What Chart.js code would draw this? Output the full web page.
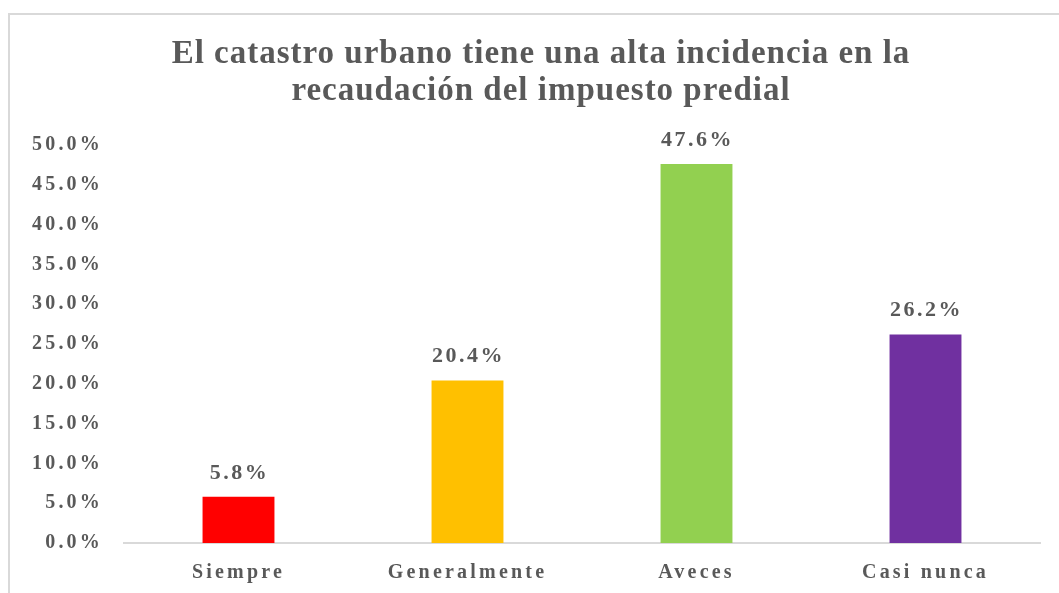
<!DOCTYPE html>
<html>
<head>
<meta charset="utf-8">
<script src="https://cdn.jsdelivr.net/npm/chart.js@4/dist/chart.umd.min.js"></script>
<style>
  body { margin: 0; background: #fff; }
  #frame { position: absolute; left: 8px; top: 13px; width: 1200px; height: 700px;
           border-left: 2px solid #d9d9d9; border-top: 2px solid #d9d9d9; }
  #wrap { position: absolute; left: 0; top: 0; width: 1059px; height: 593px; }
</style>
</head>
<body>
<div id="frame"></div>
<div id="wrap"><canvas id="chart" width="1059" height="593"></canvas></div>
<script>
const categorias = ['Siempre', 'Generalmente', 'Aveces', 'Casi nunca'];
const porcentajes = [5.8, 20.4, 47.6, 26.2];
const colores = ['#ff0000', '#ffc000', '#92d050', '#7030a0'];
const titulo = ['El catastro urbano tiene una alta incidencia en la', 'recaudación del impuesto predial'];

const gris = '#595959';
const serif = "'Liberation Serif', 'Times New Roman', serif";

// etiquetas de datos sobre cada barra + espaciado de letras (como en Excel)
const etiquetas = {
    id: 'etiquetas',
    beforeDraw(chart) {
        chart.ctx.letterSpacing = '1px';   // titulo
    },
    afterDatasetsDraw(chart) {
        const ctx = chart.ctx;
        const meta = chart.getDatasetMeta(0);
        ctx.save();
        ctx.font = 'bold 22px ' + serif;
        ctx.fillStyle = gris;
        ctx.textAlign = 'center';
        ctx.textBaseline = 'bottom';
        ctx.letterSpacing = '2.5px';
        meta.data.forEach((bar, i) => {
            ctx.fillText(porcentajes[i].toFixed(1) + '%', bar.x + 1, bar.y - 13);
        });
        ctx.restore();
        ctx.letterSpacing = '3.2px';       // ticks de ambos ejes (z: 1)
    },
    afterDraw(chart) {
        chart.ctx.letterSpacing = '0px';
    }
};

const ctx = document.getElementById('chart').getContext('2d');
new Chart(ctx, {
    type: 'bar',
    data: {
        labels: categorias,
        datasets: [{
            data: porcentajes,
            backgroundColor: colores,
            borderWidth: 0,
            barPercentage: 0.314,
            categoryPercentage: 1
        }]
    },
    options: {
        responsive: false,
        animation: false,
        layout: { padding: { left: 42, right: 19, top: 0, bottom: -10 } },
        plugins: {
            legend: { display: false },
            tooltip: { enabled: false },
            title: {
                display: true,
                text: titulo,
                color: gris,
                font: { family: serif, size: 33, weight: 'bold', lineHeight: 1.15 },
                padding: { top: 35, bottom: 34 }
            }
        },
        scales: {
            x: {
                grid: { display: false, drawTicks: false },
                border: { color: '#d9d9d9', width: 2 },
                ticks: {
                    z: 1,
                    color: gris,
                    padding: 18,
                    font: { family: serif, size: 20, weight: 'bold' }
                }
            },
            y: {
                min: 0,
                max: 50,
                afterFit(scale) { scale.width = 82; },
                grid: { display: false, drawTicks: false },
                border: { display: false },
                ticks: {
                    z: 1,
                    mirror: true,      // evita el recorte de las etiquetas
                    crossAlign: 'far',
                    padding: -76,
                    stepSize: 5,
                    color: gris,
                    font: { family: serif, size: 20, weight: 'bold' },
                    callback: v => v.toFixed(1) + '%'
                }
            }
        }
    },
    plugins: [etiquetas]
});
</script>
</body>
</html>
